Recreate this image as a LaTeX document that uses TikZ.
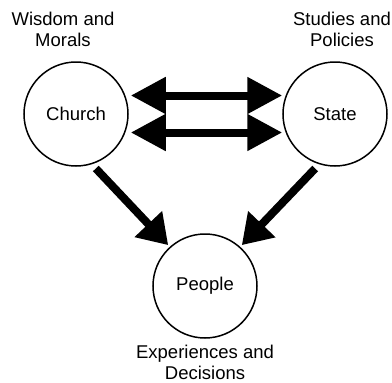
\documentclass[tikz,border=0pt]{standalone}
\usepackage{fontspec}
\setmainfont{Liberation Sans}
\usetikzlibrary{arrows.meta,calc}
\begin{document}
\begin{tikzpicture}[x=1pt,y=-1pt,
  entity/.style={circle,draw=black,line width=1.5pt,minimum size=104pt,inner sep=0pt,
    font=\fontsize{18.5}{21}\selectfont},
  caption/.style={anchor=north,align=center,inner sep=0pt,
    font=\fontsize{18.5}{20.5}\selectfont},
  flowh/.style={line width=8pt,{Triangle[length=35pt,width=35pt]}-{Triangle[length=35pt,width=35pt]}},
  flowd/.style={line width=8pt,-{Triangle[length=29pt,width=36pt]}}]
\fill[white] (0,0) rectangle (392,383);
\useasboundingbox (0,0) rectangle (392,383);
\node[entity] (church) at (76,114) {Church};
\node[entity] (state) at (335,114) {State};
\node[entity] (people) at (205,286) {People};
\node[caption] (wisdom) at (63,12) {Wisdom and\\Morals};
\node[caption] (studies) at (342,12) {Studies and\\Policies};
\node[caption] (exp) at (205,345) {Experiences and\\Decisions};
\draw[flowh] ([xshift=2pt,yshift=18.5pt]church.east) -- ([yshift=18.5pt]state.west);
\draw[flowh] ([xshift=2pt,yshift=-18.5pt]church.east) -- ([yshift=-18.5pt]state.west);
\draw[flowd] ($(church)+(-70:58pt)$) -- ($(people)+(132:55pt)$);
\draw[flowd] ($(state)+(-110:58pt)$) -- ($(people)+(48:55pt)$);
\end{tikzpicture}
\end{document}
